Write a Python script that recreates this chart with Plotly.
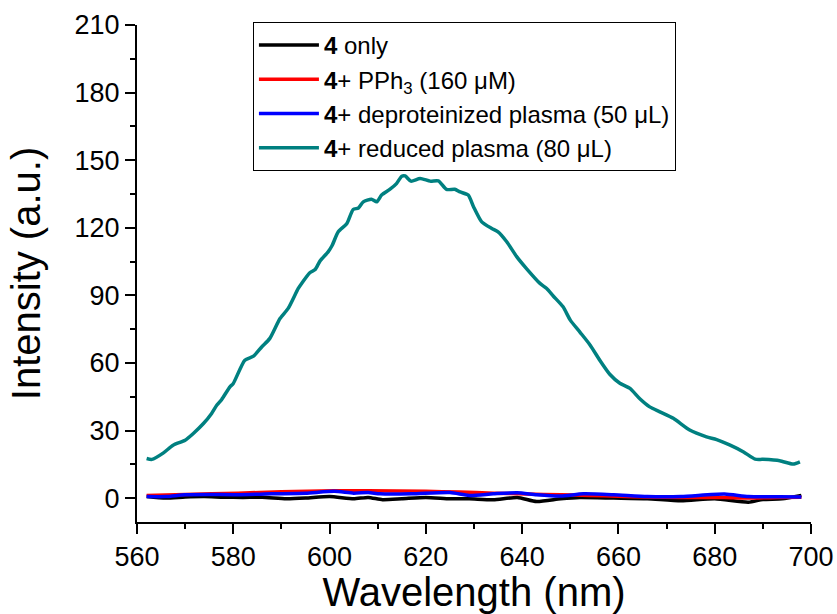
import plotly.graph_objects as go

# Teal: 4 + reduced plasma (80 uL)
teal_x = [562.0, 563.1, 565.5, 567.5, 570.0, 571.7, 573.8, 575.5, 576.6, 577.6, 579.3, 580.0,
          582.4, 584.2, 585.9, 587.6, 589.7, 591.4, 593.5, 594.2, 595.9, 597.0, 598.0, 599.7,
          600.5, 601.8, 603.6, 604.9, 606.0, 607.0, 608.7, 609.8, 610.8, 612.5, 613.9, 615.0,
          615.7, 616.9, 618.8, 620.9, 622.6, 624.3, 626.0, 627.1, 628.8, 629.9, 631.6, 633.7,
          635.0, 636.8, 638.9, 640.9, 643.7, 645.1, 646.5, 648.5, 650.0, 652.0, 654.1, 656.2,
          658.2, 660.3, 662.4, 664.5, 666.5, 668.6, 671.4, 674.8, 678.3, 680.4, 683.2, 686.0,
          688.4, 690.0, 693.5, 696.3, 697.7]
teal_y = [17.6, 17.2, 20.1, 23.5, 25.7, 28.7, 33.1, 37.6, 41.3, 43.8, 49.4, 50.9,
          61.2, 63.0, 67.1, 70.9, 79.7, 84.2, 93.1, 95.3, 100.0, 101.5, 105.2, 109.3,
          112.0, 118.2, 121.9, 128.1, 128.8, 131.5, 132.7, 131.5, 134.5, 137.0, 139.6, 142.9,
          143.0, 140.7, 141.9, 140.7, 140.8, 137.0, 137.1, 135.9, 134.5, 129.3, 122.6, 119.7,
          118.2, 113.8, 107.1, 101.9, 95.3, 93.0, 89.6, 84.9, 79.0, 73.7, 68.0, 61.0,
          55.0, 51.0, 48.7, 44.0, 40.5, 38.3, 35.4, 30.2, 27.2, 26.0, 23.5, 20.5,
          17.3, 17.2, 16.6, 15.1, 16.1]

# Black: 4 only
black_x = [562, 566, 570, 574, 578, 582, 586, 591, 595, 600, 605, 608, 611, 615, 620,
           625, 629, 634, 639, 643, 648, 652, 659, 666, 673, 680, 687, 690, 694, 698]
black_y = [0.7, 0.0, 0.5, 0.7, 0.4, 0.3, 0.4, -0.3, 0.0, 0.7, -0.3, 0.3, -0.7, -0.3, 0.3,
           -0.3, -0.3, -0.7, 0.3, -1.5, -0.3, 0.3, 0.0, -0.3, -1.2, -0.3, -1.8, -0.6, -0.3, 1.2]

# Red: 4 + PPh3 (160 uM)
red_x = [562, 570, 581, 590, 601, 608, 620, 627, 634, 641, 648, 654, 660, 666, 673, 682, 687, 693, 698]
red_y = [1.2, 1.6, 2.2, 2.8, 3.3, 3.3, 3.0, 2.7, 2.2, 1.8, 1.5, 1.2, 0.8, 0.5, 0.3, 0.3, 0.0, 0.3, 0.4]

# Blue: 4 + deproteinized plasma (50 uL)
blue_x = [562, 566, 570, 575, 581, 588, 595, 601, 605, 608, 610.5, 617, 625, 629, 634,
          639, 643, 648, 652.7, 659, 666, 673, 682, 687, 693.5, 698]
blue_y = [0.7, 0.7, 1.5, 1.6, 1.5, 1.9, 2.2, 3.0, 2.2, 2.5, 1.9, 1.9, 2.5, 1.2, 1.9,
          2.4, 1.5, 0.9, 1.9, 1.5, 0.7, 0.7, 1.8, 0.7, 0.6, 0.5]

names = ["<b>4</b> only",
         "<b>4</b>+ PPh<sub>3</sub> (160 μM)",
         "<b>4</b>+ deproteinized plasma (50 μL)",
         "<b>4</b>+ reduced plasma (80 μL)"]
colors = ["#000000", "#FF0000", "#0000FF", "#008080"]

x_ticks = [560, 580, 600, 620, 640, 660, 680, 700]
y_ticks = [0, 30, 60, 90, 120, 150, 180, 210]

fig = go.Figure()
for xs, ys, nm, c in [(black_x, black_y, names[0], colors[0]),
                      (red_x, red_y, names[1], colors[1]),
                      (blue_x, blue_y, names[2], colors[2]),
                      (teal_x, teal_y, names[3], colors[3])]:
    fig.add_trace(go.Scatter(x=xs, y=ys, mode="lines", name=nm,
                             line=dict(color=c, width=3.5, shape="spline", smoothing=0.6)))

FONT = "Liberation Sans, Arial, sans-serif"
fig.update_layout(
    width=837, height=614,
    margin=dict(l=137, r=26, t=25, b=92),
    paper_bgcolor="white", plot_bgcolor="white",
    font=dict(family=FONT, color="black", size=26),
    showlegend=True,
    legend=dict(x=0.172, y=1.006, xanchor="left", yanchor="top",
                bgcolor="white", bordercolor="black", borderwidth=1,
                font=dict(size=24, family=FONT, color="black"),
                itemwidth=60, tracegroupgap=0),
    xaxis=dict(range=[560, 700], tickvals=x_ticks, ticktext=[str(v) for v in x_ticks],
               showline=True, linecolor="black", linewidth=2, mirror=False,
               ticks="outside", ticklen=10, tickwidth=2, tickcolor="black",
               minor=dict(dtick=10, tick0=560, ticks="outside", ticklen=5, tickwidth=2, tickcolor="black"),
               showgrid=False, zeroline=False, automargin=False,
               tickfont=dict(size=27),
               title=dict(text="Wavelength (nm)", font=dict(size=40), standoff=4)),
    yaxis=dict(range=[-10.6, 210], tickvals=y_ticks, ticktext=[str(v) for v in y_ticks],
               showline=True, linecolor="black", linewidth=2, mirror=False,
               ticks="outside", ticklen=10, tickwidth=2, tickcolor="black",
               minor=dict(dtick=15, tick0=0, ticks="outside", ticklen=5, tickwidth=2, tickcolor="black"),
               showgrid=False, zeroline=False, automargin=False,
               tickfont=dict(size=27),
               title=dict(text="Intensity (a.u.)", font=dict(size=40), standoff=22)),
)

fig.write_html("out.html")
